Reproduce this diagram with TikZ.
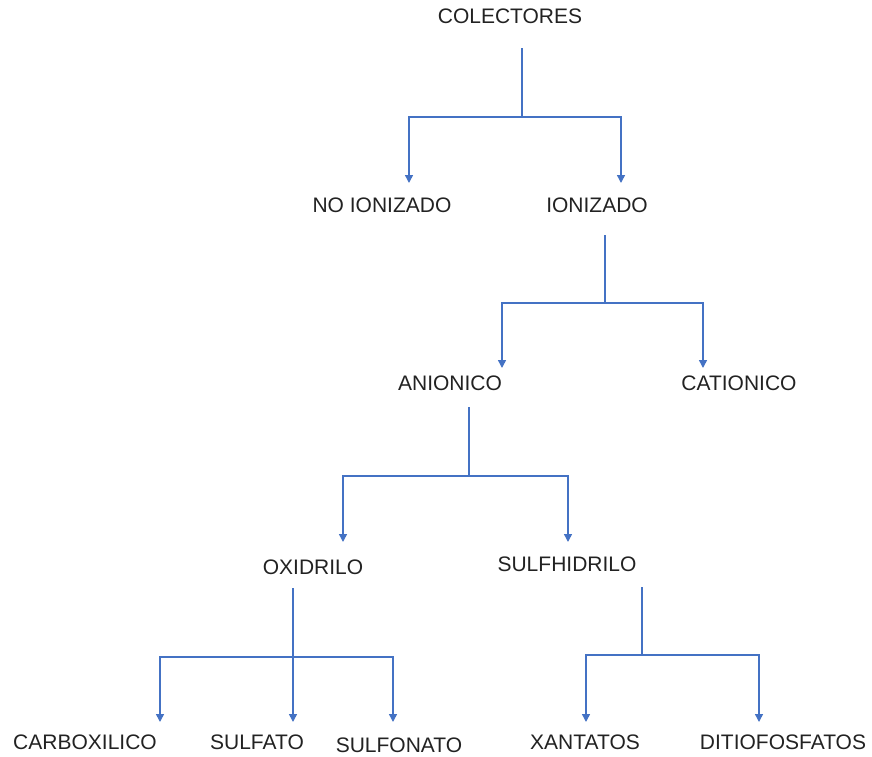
\documentclass[tikz,border=0pt]{standalone}
\usepackage{fontspec}
\setmainfont{Liberation Sans}
\usepackage{xcolor}
\usepackage{tikz}
\usetikzlibrary{arrows.meta}
\definecolor{linkblue}{RGB}{68,114,196}
\definecolor{inkgray}{RGB}{34,34,34}

\begin{document}
\begin{tikzpicture}[x=0.75pt,y=-0.75pt]
\tikzstyle{term}=[inner sep=0pt, text=inkgray, font=\fontsize{15.75}{18}\selectfont]
\tikzstyle{link}=[draw=linkblue, line width=1.1pt]
\tikzstyle{stem}=[link, line width=1.5pt]
\tikzstyle{branch}=[link, -{Triangle[width=6pt,length=6pt]}]
\useasboundingbox (0,0) rectangle (872,757);

% terms
\node[term] (col) at (510,16) {COLECTORES};
\node[term] (noion) at (382,205) {NO IONIZADO};
\node[term] (ion) at (597,205) {IONIZADO};
\node[term] (anio) at (450,383) {ANIONICO};
\node[term] (catio) at (739,383) {CATIONICO};
\node[term] (oxi) at (313,567) {OXIDRILO};
\node[term] (sulfh) at (567,564) {SULFHIDRILO};
\node[term] (carbox) at (85,742) {CARBOXILICO};
\node[term] (sulfa) at (257,742) {SULFATO};
\node[term] (sulfo) at (399,745) {SULFONATO};
\node[term] (xant) at (585,742) {XANTATOS};
\node[term] (ditio) at (783,742) {DITIOFOSFATOS};

% stems and junctions
\coordinate (col-s) at (522,48);
\coordinate (col-j) at (522,117);
\coordinate (ion-s) at (605,235);
\coordinate (ion-j) at (605,303);
\coordinate (anio-s) at (469,407);
\coordinate (anio-j) at (469,476);
\coordinate (oxi-s) at (293,588);
\coordinate (oxi-j) at (293,657);
\coordinate (sulfh-s) at (642,587);
\coordinate (sulfh-j) at (642,655);

% arrow tips
\coordinate (noion-t) at (409,183);
\coordinate (ion-t) at (621,183);
\coordinate (anio-t) at (502,368);
\coordinate (catio-t) at (703,368);
\coordinate (oxi-t) at (343,542);
\coordinate (sulfh-t) at (568,542);
\coordinate (carbox-t) at (160,722);
\coordinate (sulfa-t) at (293,722);
\coordinate (sulfo-t) at (393,722);
\coordinate (xant-t) at (586,722);
\coordinate (ditio-t) at (759,722);

\path[link] (col-s) edge (col-j)
            (ion-s) edge (ion-j);
\path[stem] (anio-s) edge (anio-j)
            (oxi-s) edge (oxi-j)
            (sulfh-s) edge (sulfh-j);

\draw[branch] (col-j) -| (noion-t);
\draw[branch] (col-j) -| (ion-t);
\draw[branch] (ion-j) -| (anio-t);
\draw[branch] (ion-j) -| (catio-t);
\draw[branch] (anio-j) -| (oxi-t);
\draw[branch] (anio-j) -| (sulfh-t);
\draw[branch] (oxi-j) -| (carbox-t);
\draw[branch] (oxi-j) -- (sulfa-t);
\draw[branch] (oxi-j) -| (sulfo-t);
\draw[branch] (sulfh-j) -| (xant-t);
\draw[branch] (sulfh-j) -| (ditio-t);
\end{tikzpicture}
\end{document}
